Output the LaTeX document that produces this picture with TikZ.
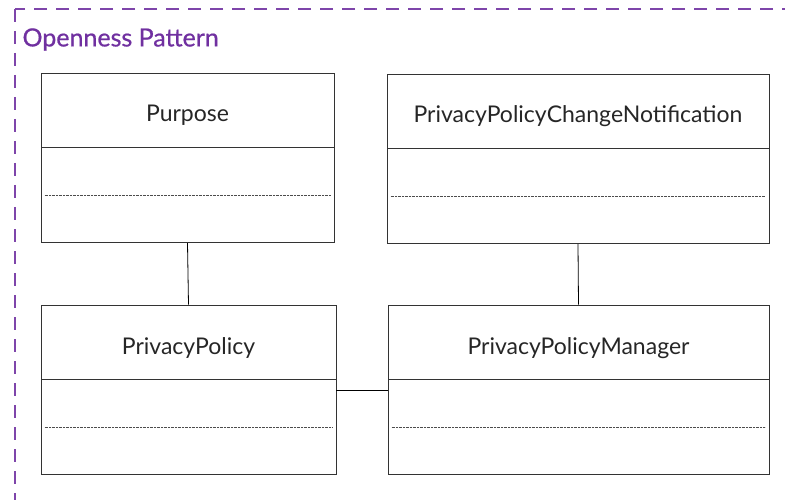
\documentclass[tikz,border=0pt]{standalone}
\usepackage{fontspec}
\setmainfont{Lato}
\newfontface\titlefont{Lato}[FakeBold=0.7]
\usetikzlibrary{positioning, calc}

\definecolor{patternpurple}{HTML}{7030A0}

\begin{document}
\begin{tikzpicture}[
    x=1pt,
    y=-1pt,
    classhead/.style={
      draw=black!80,
      line width=0.8pt,
      rectangle,
      inner sep=0,
      minimum height=74pt,
      text height=24pt,
      text depth=0pt,
      font=\fontsize{23}{27}\selectfont,
      text=black!85
    },
    classbody/.style={
      draw=black!80,
      line width=0.8pt,
      rectangle,
      inner sep=0,
      minimum height=95pt
    },
    attrline/.style={draw=black!70, line width=0.6pt, dash pattern=on 0.8pt off 0.6pt},
    assoc/.style={draw=black, line width=0.8pt}]
   \useasboundingbox (0,0) rectangle (785,500);
   \begin{scope}
     \clip (0,0) rectangle (785,500);
     \draw[patternpurple!90, line width=1.8pt, dash pattern=on 13pt off 9pt]
       (15,9) rectangle (820,540);
   \end{scope}
   \node(title) at (19,39.5) [anchor=west, text=patternpurple,
     font=\titlefont\fontsize{25}{29}\selectfont] {Openness Pattern};

   % class headers
   \path
     node(purpose)  at (187.5,110) [classhead, minimum width=293pt] {Purpose}
     node(notify)   at (578,  111) [classhead, minimum width=382pt] {PrivacyPolicyChangeNotification}
     node(policy)   at (188.5,342) [classhead, minimum width=295pt] {PrivacyPolicy}
     node(manager)  at (578.5,342) [classhead, minimum width=381pt] {PrivacyPolicyManager};

   % class bodies with the dotted separator
   \foreach \c/\w in {purpose/293, notify/382, policy/295, manager/381} {
     \node[classbody, anchor=north, minimum width=\w pt] (\c-body) at (\c.south) {};
     \draw[attrline] ([xshift=4pt]\c-body.west) -- ([xshift=-4pt]\c-body.east);
   }

   % associations
   \draw[assoc] (purpose-body.south) -- (policy.north);
   \draw[assoc] (notify-body.south) -- (manager.north);
   \draw[assoc] ([yshift=-11pt]policy-body.north east) -- ([yshift=-11pt]manager-body.north west);
\end{tikzpicture}
\end{document}
